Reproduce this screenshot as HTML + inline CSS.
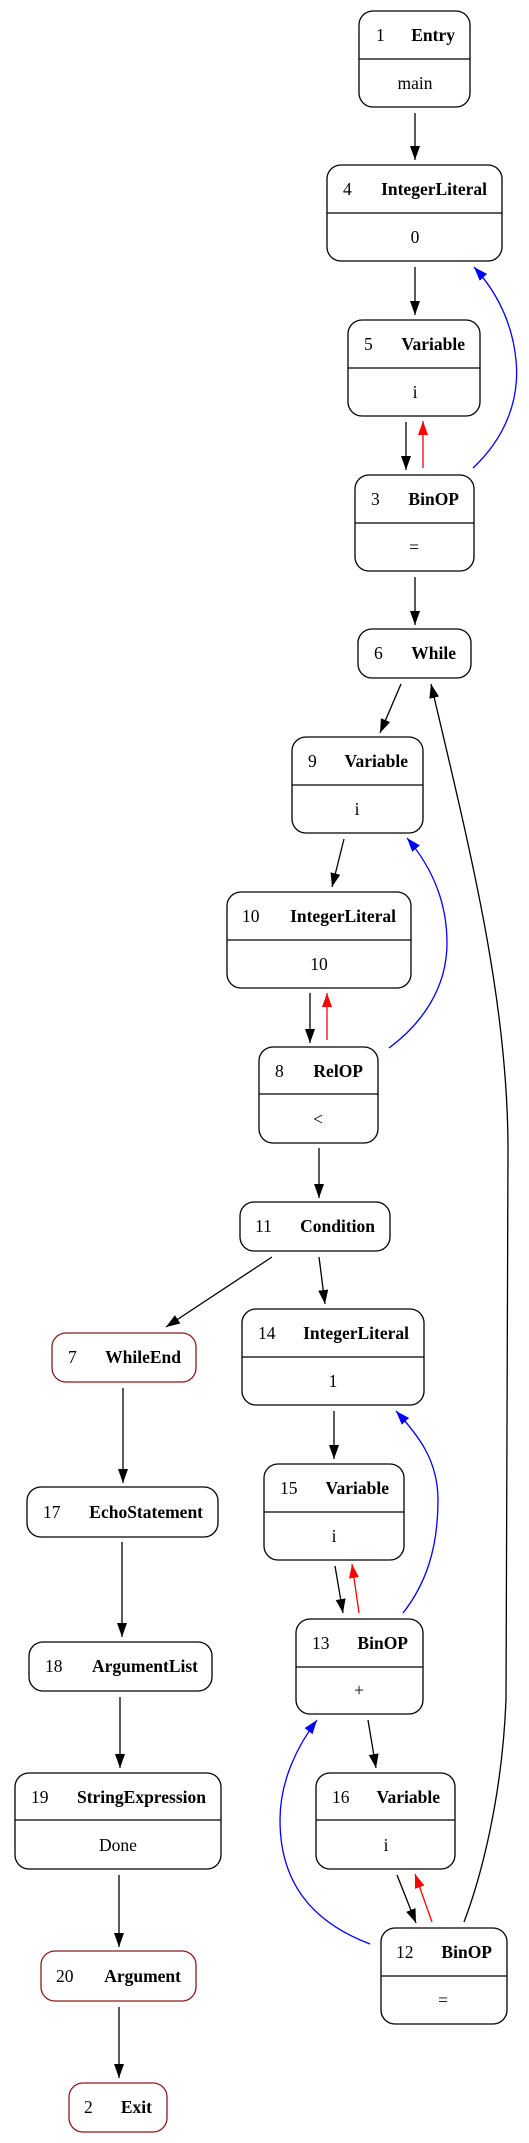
<!DOCTYPE html>
<html><head><meta charset="utf-8"><style>
html,body{margin:0;padding:0;background:#fff;}
svg{display:block;}
text{font-family:"Liberation Serif",serif;font-size:17.5px;fill:#000;}
.b{font-weight:bold;}
</style></head><body>
<svg width="529" height="2143" viewBox="0 0 529 2143" xmlns="http://www.w3.org/2000/svg">
<defs>
<marker id="ak" markerUnits="userSpaceOnUse" markerWidth="15" markerHeight="11" refX="14" refY="5" orient="auto"><path d="M0,0 L14,5 L0,10 z" fill="#000"/></marker>
<marker id="ar" markerUnits="userSpaceOnUse" markerWidth="15" markerHeight="11" refX="14" refY="5" orient="auto"><path d="M0,0 L14,5 L0,10 z" fill="#f00"/></marker>
<marker id="ab" markerUnits="userSpaceOnUse" markerWidth="15" markerHeight="11" refX="14" refY="5" orient="auto"><path d="M0,0 L14,5 L0,10 z" fill="#00f"/></marker>
</defs>
<g fill="none" stroke-width="1.3">
<g stroke="#000" marker-end="url(#ak)">
<line x1="415" y1="113" x2="415" y2="160"/>
<line x1="415" y1="267" x2="415" y2="315"/>
<line x1="406" y1="422" x2="406" y2="470"/>
<line x1="415" y1="577" x2="415" y2="625"/>
<line x1="401" y1="684" x2="380" y2="733"/>
<line x1="344" y1="839" x2="332" y2="887"/>
<line x1="310" y1="993" x2="310" y2="1043"/>
<line x1="319" y1="1148" x2="319" y2="1198"/>
<line x1="272" y1="1257" x2="166" y2="1327"/>
<line x1="319" y1="1257" x2="325" y2="1304"/>
<line x1="334" y1="1411" x2="334" y2="1459"/>
<line x1="123" y1="1388" x2="123" y2="1483"/>
<line x1="335" y1="1566" x2="343" y2="1613"/>
<line x1="122" y1="1542" x2="122" y2="1637"/>
<line x1="120" y1="1697" x2="120" y2="1768"/>
<line x1="368" y1="1720" x2="376" y2="1768"/>
<line x1="397" y1="1875" x2="416" y2="1923"/>
<line x1="119" y1="1875" x2="119" y2="1947"/>
<line x1="119" y1="2007" x2="119" y2="2078"/>
<path d="M464,1922 C480,1880 502,1800 506,1700 L508,1150 C508,1000 470,850 431,684"/>
</g>
<g stroke="#f00" marker-end="url(#ar)">
<line x1="423" y1="468" x2="423" y2="421"/>
<line x1="327" y1="1040" x2="327" y2="993"/>
<line x1="359" y1="1613" x2="352" y2="1564"/>
<line x1="432" y1="1922" x2="415" y2="1874"/>
</g>
<g stroke="#00f" marker-end="url(#ab)">
<path d="M473,468 C505,438 520,400 516,360 C512,320 495,290 474,267"/>
<path d="M389,1048 C420,1025 447,990 447,943 C447,900 430,865 407,838"/>
<path d="M403,1613 C425,1585 438,1550 438,1500 C438,1460 418,1435 396,1411"/>
<path d="M370,1944 C320,1925 280,1890 280,1820 C280,1780 298,1745 317,1720"/>
</g>
<g stroke="#000">
<rect x="359" y="11" width="111" height="96" rx="14"/><line x1="359" y1="59" x2="470" y2="59"/>
<rect x="327" y="165" width="175" height="96" rx="14"/><line x1="327" y1="213" x2="502" y2="213"/>
<rect x="348" y="320" width="132" height="96" rx="14"/><line x1="348" y1="368" x2="480" y2="368"/>
<rect x="355" y="475" width="119" height="96" rx="14"/><line x1="355" y1="523" x2="474" y2="523"/>
<rect x="358" y="629" width="113" height="49" rx="14"/>
<rect x="292" y="737" width="131" height="96" rx="14"/><line x1="292" y1="785" x2="423" y2="785"/>
<rect x="227" y="892" width="184" height="96" rx="14"/><line x1="227" y1="940" x2="411" y2="940"/>
<rect x="259" y="1047" width="119" height="96" rx="14"/><line x1="259" y1="1094" x2="378" y2="1094"/>
<rect x="240" y="1202" width="150" height="49" rx="14"/>
<rect x="242" y="1309" width="182" height="96" rx="14"/><line x1="242" y1="1357" x2="424" y2="1357"/>
<rect x="27" y="1487" width="191" height="50" rx="14"/>
<rect x="264" y="1464" width="140" height="96" rx="14"/><line x1="264" y1="1512" x2="404" y2="1512"/>
<rect x="29" y="1642" width="183" height="49" rx="14"/>
<rect x="296" y="1619" width="127" height="95" rx="14"/><line x1="296" y1="1667" x2="423" y2="1667"/>
<rect x="15" y="1773" width="206" height="96" rx="14"/><line x1="15" y1="1820" x2="221" y2="1820"/>
<rect x="316" y="1773" width="139" height="96" rx="14"/><line x1="316" y1="1820" x2="455" y2="1820"/>
<rect x="381" y="1928" width="126" height="96" rx="14"/><line x1="381" y1="1976" x2="507" y2="1976"/>
</g>
<g stroke="#8b1a1a">
<rect x="52" y="1333" width="144" height="49" rx="14"/>
<rect x="41" y="1951" width="155" height="50" rx="14"/>
<rect x="69" y="2083" width="98" height="49" rx="14"/>
</g>
</g>
<g>
<text x="376" y="41">1</text><text class="b" x="455" y="41" text-anchor="end">Entry</text><text x="415" y="89" text-anchor="middle">main</text>
<text x="343" y="195">4</text><text class="b" x="487" y="195" text-anchor="end">IntegerLiteral</text><text x="415" y="243" text-anchor="middle">0</text>
<text x="364" y="350">5</text><text class="b" x="465" y="350" text-anchor="end">Variable</text><text x="415" y="398" text-anchor="middle">i</text>
<text x="371" y="505">3</text><text class="b" x="459" y="505" text-anchor="end">BinOP</text><text x="414" y="553" text-anchor="middle">=</text>
<text x="374" y="659">6</text><text class="b" x="456" y="659" text-anchor="end">While</text>
<text x="308" y="767">9</text><text class="b" x="408" y="767" text-anchor="end">Variable</text><text x="357" y="815" text-anchor="middle">i</text>
<text x="242" y="922">10</text><text class="b" x="396" y="922" text-anchor="end">IntegerLiteral</text><text x="319" y="970" text-anchor="middle">10</text>
<text x="275" y="1077">8</text><text class="b" x="363" y="1077" text-anchor="end">RelOP</text><text x="318" y="1125" text-anchor="middle">&lt;</text>
<text x="255" y="1232">11</text><text class="b" x="375" y="1232" text-anchor="end">Condition</text>
<text x="68" y="1363">7</text><text class="b" x="181" y="1363" text-anchor="end">WhileEnd</text>
<text x="258" y="1339">14</text><text class="b" x="409" y="1339" text-anchor="end">IntegerLiteral</text><text x="333" y="1387" text-anchor="middle">1</text>
<text x="43" y="1518">17</text><text class="b" x="203" y="1518" text-anchor="end">EchoStatement</text>
<text x="280" y="1494">15</text><text class="b" x="389" y="1494" text-anchor="end">Variable</text><text x="334" y="1542" text-anchor="middle">i</text>
<text x="45" y="1672">18</text><text class="b" x="198" y="1672" text-anchor="end">ArgumentList</text>
<text x="312" y="1649">13</text><text class="b" x="408" y="1649" text-anchor="end">BinOP</text><text x="359" y="1696" text-anchor="middle">+</text>
<text x="31" y="1803">19</text><text class="b" x="206" y="1803" text-anchor="end">StringExpression</text><text x="118" y="1851" text-anchor="middle">Done</text>
<text x="332" y="1803">16</text><text class="b" x="440" y="1803" text-anchor="end">Variable</text><text x="386" y="1851" text-anchor="middle">i</text>
<text x="56" y="1982">20</text><text class="b" x="181" y="1982" text-anchor="end">Argument</text>
<text x="396" y="1958">12</text><text class="b" x="492" y="1958" text-anchor="end">BinOP</text><text x="443" y="2006" text-anchor="middle">=</text>
<text x="84" y="2113">2</text><text class="b" x="152" y="2113" text-anchor="end">Exit</text>
</g>
</svg>
</body></html>
